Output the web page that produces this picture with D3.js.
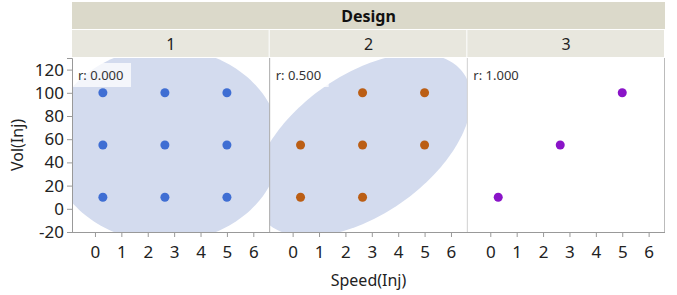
<!DOCTYPE html>
<html>
<head>
<meta charset="utf-8">
<script src="https://cdn.jsdelivr.net/npm/d3@7"></script>
<style>
  body { margin: 0; background: #fff; }
  svg { display: block; font-family: "Noto Sans", "Open Sans", sans-serif; }
</style>
</head>
<body>
<svg id="chart" width="677" height="295"></svg>
<script>
// data
const designs = ["1", "2", "3"];
const speed1 = [0.3, 0.3, 0.3, 2.65, 2.65, 2.65, 5, 5, 5];
const vol1   = [10, 55, 100, 10, 55, 100, 10, 55, 100];
const speed2 = [0.3, 0.3, 2.65, 2.65, 2.65, 5, 5];
const vol2   = [10, 55, 10, 55, 100, 55, 100];
const speed3 = [0.3, 2.65, 5];
const vol3   = [10, 55, 100];
const rLabels = ["r: 0.000", "r: 0.500", "r: 1.000"];
const xTicks = [0, 1, 2, 3, 4, 5, 6];
const yTicks = [-20, 0, 20, 40, 60, 80, 100, 120];

const series = [
  { speed: speed1, vol: vol1, color: "#3f6ed3" },
  { speed: speed2, vol: vol2, color: "#bb5e14" },
  { speed: speed3, vol: vol3, color: "#8a14c8" }
];

const svg = d3.select("#chart");
const plotL = 72, plotR = 665, plotT = 58, plotB = 232;
const panelW = (plotR - plotL) / designs.length;

const y = d3.scaleLinear().domain([-20, 130]).range([plotB, plotT]);

// header strips
svg.append("rect").attr("x", plotL).attr("y", 2).attr("width", plotR - plotL).attr("height", 27).attr("fill", "#dbd9ca");
svg.append("text").attr("x", (plotL + plotR) / 2).attr("y", 22).attr("text-anchor", "middle")
  .attr("font-size", 16).attr("font-weight", "bold").attr("fill", "#111").text("Design");

const panels = svg.selectAll("g.panel").data(designs).enter().append("g")
  .attr("class", "panel")
  .attr("transform", (d, i) => "translate(" + (plotL + i * panelW) + ",0)");

panels.append("rect").attr("x", 0).attr("y", 30).attr("width", panelW - 1).attr("height", 27).attr("fill", "#e8e7de");
panels.append("text").attr("x", panelW / 2).attr("y", 50).attr("text-anchor", "middle")
  .attr("font-size", 16).attr("fill", "#222").text(d => d);

const x = d3.scaleLinear().domain([-0.87, 6.62]).range([0, panelW]);
const k = Math.sqrt(-2 * Math.log(0.1)); // 90% density ellipse

panels.each(function (d, i) {
  const g = d3.select(this);
  const s = series[i];
  const n = s.speed.length;
  const mx = d3.mean(s.speed), my = d3.mean(s.vol);
  const sx = d3.deviation(s.speed), sy = d3.deviation(s.vol);
  let sxy = 0;
  for (let j = 0; j < n; j++) sxy += (s.speed[j] - mx) * (s.vol[j] - my);
  sxy /= (n - 1);
  const r = sxy / (sx * sy);

  g.append("clipPath").attr("id", "clip" + i).append("rect")
    .attr("x", 0).attr("y", plotT).attr("width", panelW).attr("height", plotB - plotT);

  const plot = g.append("g").attr("clip-path", "url(#clip" + i + ")");
  plot.append("rect").attr("x", 0).attr("y", plotT).attr("width", panelW).attr("height", plotB - plotT).attr("fill", "#fff");

  if (Math.abs(r) < 0.999) {
    // cholesky of covariance
    const l11 = sx, l21 = sxy / sx, l22 = Math.sqrt(sy * sy - l21 * l21);
    const pts = d3.range(0, 2 * Math.PI + 0.01, Math.PI / 90).map(t => {
      const c = Math.cos(t), sn = Math.sin(t);
      return [mx + k * l11 * c, my + k * (l21 * c + l22 * sn)];
    });
    plot.append("path")
      .attr("d", d3.line().x(p => x(p[0])).y(p => y(p[1]))(pts) + "Z")
      .attr("fill", "#d3dbee");
  }

  plot.selectAll("circle").data(d3.range(n)).enter().append("circle")
    .attr("cx", j => x(s.speed[j]))
    .attr("cy", j => y(s.vol[j]))
    .attr("r", 4.5)
    .attr("fill", s.color);

  // r label box
  plot.append("rect").attr("x", 1).attr("y", 63).attr("width", 58).attr("height", 24)
    .attr("fill", "#fff").attr("fill-opacity", 0.75);
  plot.append("text").attr("x", 6).attr("y", 80).attr("font-size", 13).attr("fill", "#333").text(rLabels[i]);

  // x axis
  const ax = g.append("g").attr("transform", "translate(0," + plotB + ")");
  ax.call(d3.axisBottom(x).tickValues(d3.range(-0.5, 6.6, 0.5)).tickSize(3).tickFormat(""));
  ax.call(d3.axisBottom(x).tickValues(xTicks).tickSize(5).tickPadding(9).tickFormat(v => String(v)));
  ax.selectAll(".domain").remove();
  ax.selectAll("line").attr("stroke", "#999");
  ax.selectAll("text").attr("font-size", 17).attr("fill", "#222").attr("font-family", "\"Noto Sans\", sans-serif");
});

// panel separators and frame
svg.append("line").attr("x1", plotL).attr("x2", plotR).attr("y1", plotB + 0.5).attr("y2", plotB + 0.5).attr("stroke", "#999");
svg.append("line").attr("x1", plotR - 0.5).attr("x2", plotR - 0.5).attr("y1", plotT).attr("y2", plotB).attr("stroke", "#bbb");
svg.append("line").attr("x1", plotL + panelW).attr("x2", plotL + panelW).attr("y1", plotT).attr("y2", plotB).attr("stroke", "#aaa");
svg.append("line").attr("x1", plotL + 2 * panelW).attr("x2", plotL + 2 * panelW).attr("y1", plotT).attr("y2", plotB).attr("stroke", "#d0d0d0");

// y axis
const ay = svg.append("g").attr("transform", "translate(" + plotL + ",0)");
ay.call(d3.axisLeft(y).tickValues(d3.range(-20, 131, 10)).tickSize(3).tickFormat(""));
ay.call(d3.axisLeft(y).tickValues(yTicks).tickSize(5).tickPadding(3).tickFormat(v => String(v)));
ay.select(".domain").attr("stroke", "#999");
ay.selectAll("line").attr("stroke", "#999");
ay.selectAll("text").attr("font-size", 17).attr("fill", "#222").attr("font-family", "\"Noto Sans\", sans-serif");

// axis titles
svg.append("text").attr("x", (plotL + plotR) / 2).attr("y", 286).attr("text-anchor", "middle")
  .attr("font-size", 16).attr("fill", "#222").text("Speed(Inj)");
svg.append("text").attr("transform", "translate(23,145) rotate(-90)").attr("text-anchor", "middle")
  .attr("font-size", 16).attr("fill", "#222").text("Vol(Inj)");
</script>
</body>
</html>
